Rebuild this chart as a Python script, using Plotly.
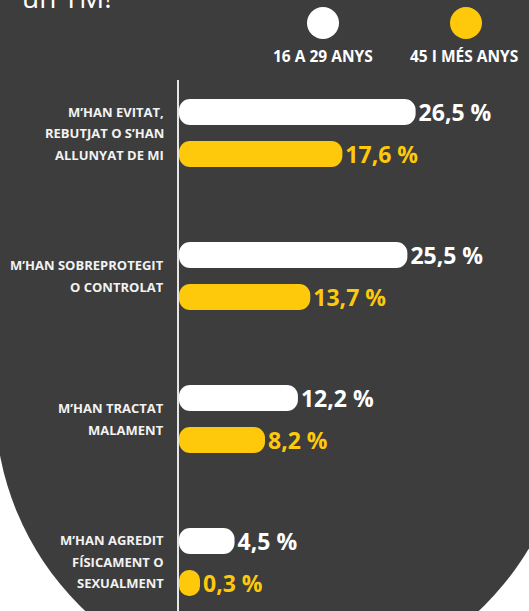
import plotly.graph_objects as go

# ---------------- data ----------------
label_lines = [
    ["M’HAN EVITAT,", "REBUTJAT O S’HAN", "ALLUNYAT DE MI"],
    ["M’HAN SOBREPROTEGIT", "O CONTROLAT"],
    ["M’HAN TRACTAT", "MALAMENT"],
    ["M’HAN AGREDIT", "FÍSICAMENT O", "SEXUALMENT"],
]
categories = [" ".join(l) for l in label_lines]
series_names = ["16 A 29 ANYS", "45 I MÉS ANYS"]
young = [26.5, 25.5, 12.2, 4.5]
older = [17.6, 13.7, 8.2, 0.3]
title_tail = "un TM!"

# ---------------- style ----------------
W, H = 529, 611
L, R, T, B = 179, 0, 80, 0
PW, PH = W - L - R, H - T - B
BG = "#3d3d3d"
WHITE = "#ffffff"
YELLOW = "#ffc90b"
FONT = "Open Sans"
CAP = 2.25          # minimum visual bar length (rounded cap), in axis units
PX_PER_UNIT = 8.23


def px_x(px):
    return (px - L) / PW


def px_y(py):
    return (H - B - py) / PH


def fmt(v):
    return f"{v:.1f}".replace(".", ",") + " %"


fig = go.Figure()
for name, vals, col in [(series_names[0], young, WHITE), (series_names[1], older, YELLOW)]:
    fig.add_trace(go.Bar(
        y=categories,
        x=[v + CAP for v in vals],
        base=-CAP,
        orientation="h",
        name=name,
        marker=dict(color=col, line=dict(width=0), cornerradius=11),
        text=[fmt(v) for v in vals],
        textposition="outside",
        textfont=dict(family=FONT, size=23, color=col, weight="bold"),
        constraintext="none",
        cliponaxis=False,
        hoverinfo="skip",
    ))

shapes = [
    # dark background: rectangle on top + big circle at bottom
    dict(type="rect", xref="paper", yref="paper", layer="below",
         x0=px_x(-10), x1=px_x(W + 10), y0=px_y(402), y1=px_y(-10),
         fillcolor=BG, line=dict(width=0)),
    dict(type="circle", xref="paper", yref="paper", layer="below",
         x0=px_x(282 - 287), x1=px_x(282 + 287), y0=px_y(402 + 287), y1=px_y(402 - 287),
         fillcolor=BG, line=dict(width=0)),
]
# legend dots
for cx, col in [(323, WHITE), (466, YELLOW)]:
    shapes.append(dict(type="circle", xref="paper", yref="paper",
                       x0=px_x(cx - 16), x1=px_x(cx + 16), y0=px_y(23 + 16), y1=px_y(23 - 16),
                       fillcolor=col, line=dict(width=0)))

annotations = []
for cx, name in [(323, series_names[0]), (464, series_names[1])]:
    annotations.append(dict(x=px_x(cx), y=px_y(56), xref="paper", yref="paper",
                            text=name, showarrow=False, xanchor="center", yanchor="middle",
                            font=dict(family=FONT, size=15.5, color=WHITE, weight="bold")))
annotations.append(dict(x=px_x(20), y=px_y(18), xref="paper", yref="paper",
                        text=title_tail, showarrow=False, xanchor="left", yanchor="bottom",
                        font=dict(family=FONT, size=28, color=WHITE)))
for cat, lines in zip(categories, label_lines):
    n = len(lines)
    for i, line in enumerate(lines):
        annotations.append(dict(x=0, y=cat, xref="paper", yref="y", text=line,
                                showarrow=False, xanchor="right", yanchor="middle",
                                xshift=-13, yshift=-(i - (n - 1) / 2) * 21.5,
                                font=dict(family=FONT, size=13, color="#f2f2f2", weight="bold")))

fig.update_layout(
    width=W, height=H,
    margin=dict(l=L, r=R, t=T, b=B, pad=0),
    paper_bgcolor="#ffffff",
    plot_bgcolor="rgba(0,0,0,0)",
    barmode="group",
    bargap=0.413,
    bargroupgap=0.381,
    showlegend=False,
    shapes=shapes,
    annotations=annotations,
    xaxis=dict(range=[-CAP, -CAP + PW / PX_PER_UNIT], visible=False, fixedrange=True),
    yaxis=dict(type="category", categoryorder="array", categoryarray=categories,
               range=[3.343, -0.371], showticklabels=False, showgrid=False,
               zeroline=False, showline=True, linecolor="#e6e6e6", linewidth=1.5,
               ticks="", fixedrange=True),
)

fig.write_html("out.html", config={"displayModeBar": False},
               post_script="document.body.style.margin='0px';document.body.style.overflow='hidden';")
